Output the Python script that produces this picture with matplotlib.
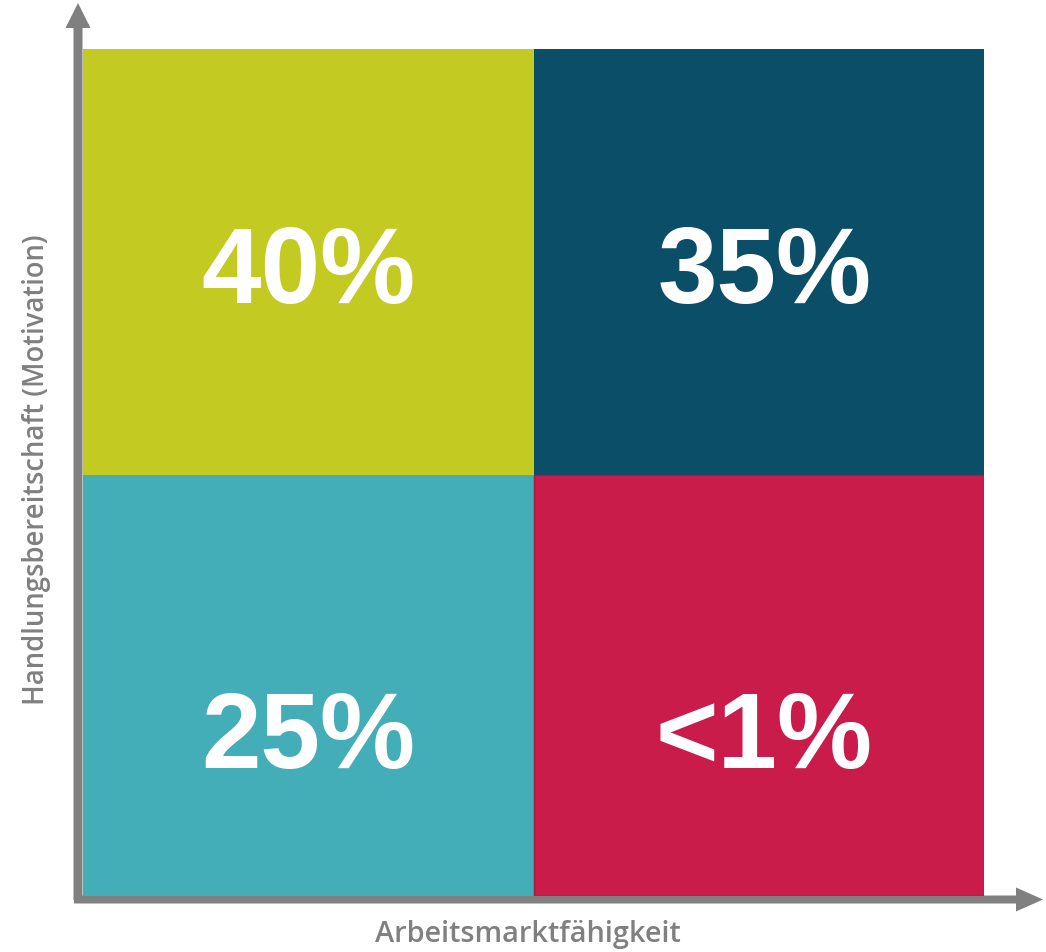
import matplotlib
matplotlib.use("Agg")
import matplotlib.pyplot as plt
from matplotlib.patches import Rectangle, FancyArrow

# ---- data ----
rows = [1, 1, 0, 0]          # Handlungsbereitschaft: high / low
col_of = [0, 1, 0, 1]        # Arbeitsmarktfähigkeit: low / high
labels = ["40%", "35%", "25%", "<1%"]
colors = ["#C3CA22", "#0A4E67", "#43AEB7", "#CA1C4A"]
x_title = "Arbeitsmarktfähigkeit"
y_title = "Handlungsbereitschaft (Motivation)"

W, H = 1046, 953
fig = plt.figure(figsize=(W / 100, H / 100), dpi=100)

# overlay for axis arrows and titles (pixel coordinates)
ov = fig.add_axes([0, 0, 1, 1])
ov.set_xlim(0, W)
ov.set_ylim(H, 0)
ov.axis("off")

# quadrant axes
ax = fig.add_axes([83 / W, (H - 897) / H, 901 / W, 847 / H])
ax.set_xlim(0, 2)
ax.set_ylim(0, 2)
ax.axis("off")

# row heights slightly unequal as in the reference (split line a bit lower)
row_y0 = {0: 0.0, 1: 0.994}
row_h = {0: 0.994, 1: 1.006}
label_base = {1: 0.403, 0: 0.305}   # baseline offset inside the cell
label_dx = {0: 0.0, 1: 0.012}
for r, c, lab, col in zip(rows, col_of, labels, colors):
    is_red = lab == "<1%"
    ax.add_patch(Rectangle((c, row_y0[r]), 1, row_h[r], facecolor=col,
                           edgecolor="#A8183F" if is_red else col,
                           linewidth=1.0 if is_red else 0.0))
    ax.text(c + 0.5 + label_dx[c], r + label_base[r], lab, ha="center",
            va="baseline", color="white", fontsize=77, fontweight="bold",
            family="Liberation Sans")

gray = "#808080"
ov.add_patch(FancyArrow(78, 901, 0, -897, width=9, head_width=25,
                        head_length=25, length_includes_head=True,
                        color=gray, linewidth=0))
ov.add_patch(FancyArrow(74, 900.5, 969, 0, width=8, head_width=24,
                        head_length=27, length_includes_head=True,
                        color=gray, linewidth=0))

ov.text(528, 942, x_title, ha="center", va="baseline", color=gray,
        fontsize=20.8, fontweight="semibold", family="Open Sans")
ov.text(37, 470, y_title, ha="center", va="center", color=gray,
        fontsize=19.8, fontweight="semibold", family="Open Sans", rotation=90)

fig.savefig("out.png", dpi=100)
